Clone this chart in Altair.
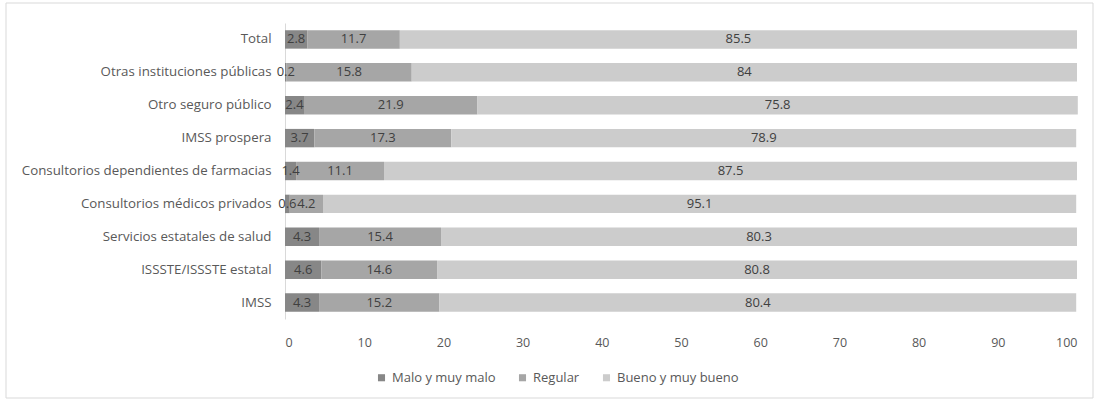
import altair as alt
import pandas as pd

# Rating of care by type of institution (percent of users)
institutions = [
    "Total",
    "Otras instituciones públicas",
    "Otro seguro público",
    "IMSS prospera",
    "Consultorios dependientes de farmacias",
    "Consultorios médicos privados",
    "Servicios estatales de salud",
    "ISSSTE/ISSSTE estatal",
    "IMSS",
]
malo = [2.8, 0.2, 2.4, 3.7, 1.4, 0.6, 4.3, 4.6, 4.3]
regular = [11.7, 15.8, 21.9, 17.3, 11.1, 4.2, 15.4, 14.6, 15.2]
bueno = [85.5, 84, 75.8, 78.9, 87.5, 95.1, 80.3, 80.8, 80.4]

series = ["Malo y muy malo", "Regular", "Bueno y muy bueno"]
colors = ["#878787", "#a6a6a6", "#cccccc"]
x_ticks = [0, 10, 20, 30, 40, 50, 60, 70, 80, 90, 100]

rows = []
for i, inst in enumerate(institutions):
    for k, (name, vals) in enumerate(zip(series, [malo, regular, bueno])):
        rows.append({"inst": inst, "serie": name, "idx": k, "value": vals[i]})
df = pd.DataFrame(rows)

FONT = "Open Sans"
TXT = "#595959"

base = alt.Chart(df).transform_stack(
    stack="value",
    groupby=["inst"],
    as_=["v0", "v1"],
    sort=[alt.SortField("idx", order="ascending")],
).transform_calculate(mid="(datum.v0 + datum.v1) / 2")

y_enc = alt.Y(
    "inst:N",
    sort=institutions,
    title=None,
    scale=alt.Scale(paddingInner=0.44, paddingOuter=0.22),
    axis=alt.Axis(
        domain=True, domainColor="#d9d9d9", ticks=False,
        labelPadding=14, labelFont=FONT, labelFontSize=13.3, labelColor=TXT,
        labelLimit=400,
    ),
)

bars = base.mark_bar().encode(
    x=alt.X(
        "v0:Q",
        title=None,
        scale=alt.Scale(domain=[0, 100], nice=False),
        axis=alt.Axis(
            values=x_ticks, grid=False, domain=False, ticks=False,
            labelPadding=17, labelFont=FONT, labelFontSize=12.5, labelColor=TXT,
        ),
    ),
    x2="v1:Q",
    y=y_enc,
    color=alt.Color(
        "serie:N",
        scale=alt.Scale(domain=series, range=colors),
        sort=series,
        legend=alt.Legend(
            title=None, orient="none", direction="horizontal",
            legendX=90, legendY=348,
            symbolType="square", symbolSize=50, symbolStrokeWidth=0,
            labelFont=FONT, labelFontSize=13, labelColor=TXT,
            columnPadding=20, labelOffset=4,
        ),
    ),
    order=alt.Order("idx:Q"),
)

labels = base.mark_text(font=FONT, fontSize=13, color="#404040").encode(
    x="mid:Q",
    y=alt.Y("inst:N", sort=institutions),
    text=alt.Text("value:Q"),
)

# light outline around the whole figure
frame = alt.Chart(alt.Data(values=[{}])).mark_rect(
    fill=None, stroke="#d9d9d9", strokeWidth=1
).encode(
    x=alt.value(-279), x2=alt.value(808),
    y=alt.value(-20), y2=alt.value(375),
)

chart = alt.layer(frame, bars, labels).properties(
    width=792,
    height=296,
    padding={"left": 285, "top": 23, "right": 20, "bottom": 82},
    autosize=alt.AutoSizeParams(type="none"),
    background="white",
).configure_view(stroke=None)

chart.save("out.html", embed_options={"renderer": "svg", "actions": False})
